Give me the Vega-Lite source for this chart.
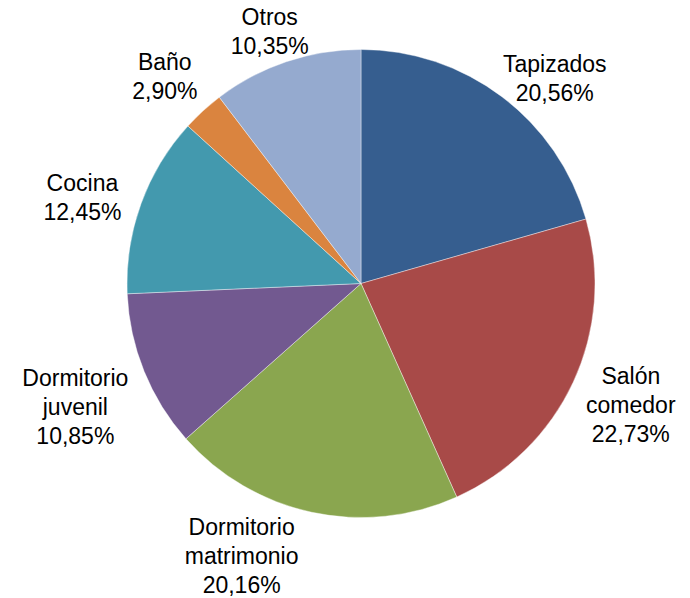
{
  "$schema": "https://vega.github.io/schema/vega-lite/v6.json",
  "width": 658,
  "height": 567,
  "padding": {"left": 32, "top": 0, "right": 0, "bottom": 31},
  "autosize": {"type": "none"},
  "background": "white",
  "view": {"stroke": null},
  "data": {
    "values": [
      {"category": "Tapizados", "order": 1, "value": 20.56, "label": "Tapizados\n20,56%"},
      {"category": "Salón comedor", "order": 2, "value": 22.73, "label": "Salón\ncomedor\n22,73%"},
      {"category": "Dormitorio matrimonio", "order": 3, "value": 20.16, "label": "Dormitorio\nmatrimonio\n20,16%"},
      {"category": "Dormitorio juvenil", "order": 4, "value": 10.85, "label": "Dormitorio\njuvenil\n10,85%"},
      {"category": "Cocina", "order": 5, "value": 12.45, "label": "Cocina\n12,45%"},
      {"category": "Baño", "order": 6, "value": 2.90, "label": "Baño\n2,90%"},
      {"category": "Otros", "order": 7, "value": 10.35, "label": "Otros\n10,35%"}
    ]
  },
  "encoding": {
    "theta": {"field": "value", "type": "quantitative", "stack": true},
    "order": {"field": "order", "type": "quantitative"}
  },
  "layer": [
    {
      "mark": {"type": "arc", "outerRadius": 234, "stroke": "white", "strokeWidth": 0.4},
      "encoding": {
        "color": {
          "field": "category",
          "type": "nominal",
          "scale": {
            "domain": ["Tapizados", "Salón comedor", "Dormitorio matrimonio", "Dormitorio juvenil", "Cocina", "Baño", "Otros"],
            "range": ["#365E8F", "#A84A48", "#8AA64F", "#725990", "#4399AE", "#DA843F", "#95AACF"]
          },
          "legend": null
        }
      }
    },
    {
      "mark": {
        "type": "text",
        "radius": 292,
        "font": "Liberation Sans",
        "fontSize": 23,
        "lineHeight": 29,
        "lineBreak": "\n",
        "align": "center",
        "baseline": "middle",
        "color": "black",
        "dx": {"expr": "{'Tapizados': 18, 'Salón comedor': 5, 'Dormitorio matrimonio': -58, 'Dormitorio juvenil': -15, 'Cocina': -4, 'Baño': 1, 'Otros': 2}[datum.category]"},
        "dy": {"expr": "{'Tapizados': 15, 'Salón comedor': -30, 'Dormitorio matrimonio': -41, 'Dormitorio juvenil': -14, 'Cocina': 0, 'Baño': -5, 'Otros': 11}[datum.category]"}
      },
      "encoding": {"text": {"field": "label", "type": "nominal"}}
    }
  ]
}
